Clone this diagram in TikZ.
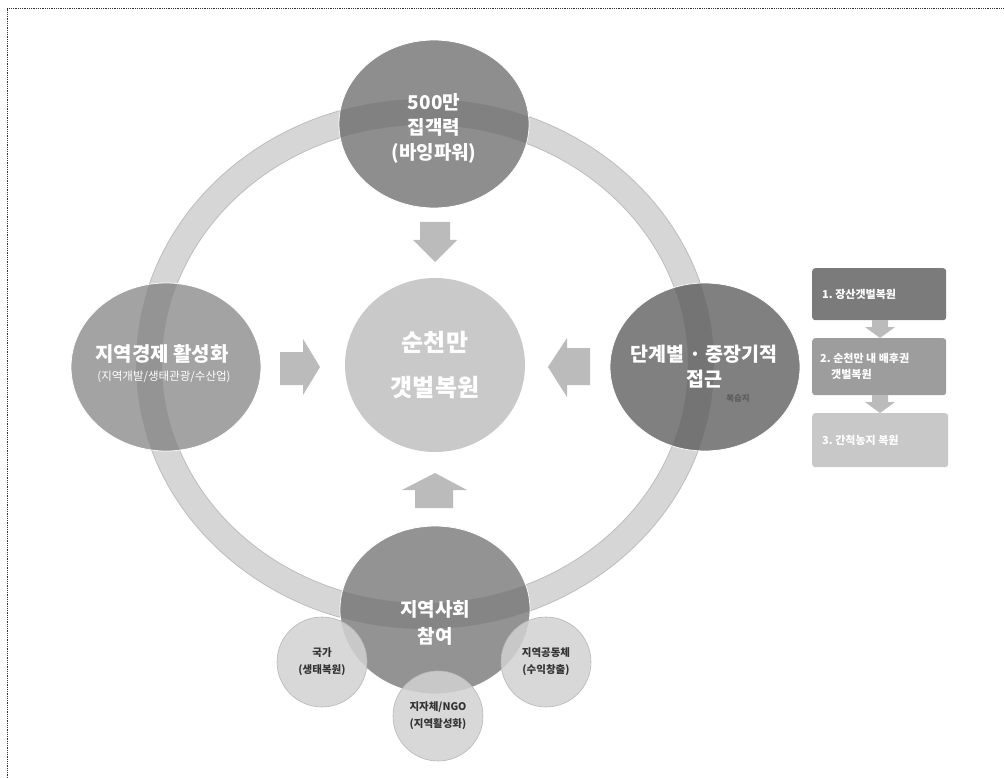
\documentclass[tikz,border=0pt]{standalone}
\usepackage{fontspec}
\setmainfont{Noto Sans CJK KR}
\usetikzlibrary{shapes.geometric}
\definecolor{ringc}{HTML}{D6D6D6}
\definecolor{ringedge}{HTML}{BDBDBD}
\definecolor{ctop}{HTML}{8E8E8E}
\definecolor{cleft}{HTML}{A3A3A3}
\definecolor{cright}{HTML}{808080}
\definecolor{cbottom}{HTML}{939393}
\definecolor{ccenter}{HTML}{C9C9C9}
\definecolor{carrow}{HTML}{BBBBBB}
\definecolor{csmall}{HTML}{D2D2D2}
\definecolor{csmalledge}{HTML}{B8B8B8}
\definecolor{cbox1}{HTML}{7B7B7B}
\definecolor{cbox2}{HTML}{9D9D9D}
\definecolor{cbox3}{HTML}{C8C8C8}
\definecolor{darktext}{HTML}{333333}
\tikzset{
  bigcirc/.style={ellipse, minimum width=190pt, minimum height=168pt, draw=white, line width=0.8pt, text=white, align=center, inner sep=0pt},
  wlabel/.style={text=white, align=center, inner sep=0pt},
  smallcirc/.style={circle, minimum size=90pt, fill=csmall, fill opacity=0.85, text opacity=1, draw=csmalledge, line width=0.6pt, text=darktext, align=center, inner sep=0pt, font=\fontsize{10.5}{17}\selectfont\bfseries},
  stepbox/.style={rectangle, rounded corners=3pt, minimum width=134pt, inner sep=0pt, anchor=north west},
  steptext/.style={text=white, anchor=west, align=left, inner sep=0pt, font=\fontsize{11}{16}\selectfont\bfseries},
  blockarrow/.style={fill=carrow},
}
\begin{document}
\begin{tikzpicture}[x=1pt,y=-1pt]
\useasboundingbox (0,0) rectangle (1004,778);
\fill[white] (0,0) rectangle (1004,778);
% dotted frame
\draw[densely dotted, line width=0.8pt, black!80] (7,778) -- (7,8) -- (1004,8);

% ring
\fill[ringc, draw=ringedge, line width=0.8pt, even odd rule] (425,364) ellipse [x radius=289pt, y radius=265pt] (425,364) ellipse [x radius=263pt, y radius=239pt];

% big circles
\node[bigcirc, fill=ctop] (top) at (434,124) {};
\node[bigcirc, fill=cleft] (left) at (166,367) {};
\node[bigcirc, fill=cright] (right) at (705,367) {};
\node[bigcirc, fill=cbottom] (bottom) at (435,610) {};

% ring visible through circles (darker band)
\begin{scope}
\clip (434,124) ellipse [x radius=95pt, y radius=84pt]
      (166,367) ellipse [x radius=95pt, y radius=84pt]
      (705,367) ellipse [x radius=95pt, y radius=84pt]
      (435,610) ellipse [x radius=95pt, y radius=84pt];
\fill[black, opacity=0.09, even odd rule] (425,364) ellipse [x radius=289pt, y radius=265pt] (425,364) ellipse [x radius=263pt, y radius=239pt];
\end{scope}

% texts on big circles
\node[wlabel, font=\fontsize{19}{25}\selectfont\bfseries] (toptext) at (434,128) {500만\\집객력\\(바잉파워)};
\node[wlabel, font=\fontsize{20}{24}\selectfont\bfseries] (lefttext) at (162,354) {지역경제 활성화};
\node[wlabel, font=\fontsize{11.5}{13}\selectfont] (leftsub) at (164,377) {(지역개발/생태관광/수산업)};
\node[wlabel, font=\fontsize{19.5}{25}\selectfont\bfseries] (righttext) at (704,367) {단계별 · 중장기적\\접근};
\node[text=darktext!80, inner sep=0pt, font=\fontsize{8.5}{10}\selectfont\bfseries] (rightsub) at (738,398) {복습지};
\node[wlabel, font=\fontsize{19}{27}\selectfont\bfseries] (bottomtext) at (435,623) {지역사회\\참여};

% center circle
\node[ellipse, minimum width=180pt, minimum height=174pt, fill=ccenter, inner sep=0pt, text=white, align=center, font=\fontsize{24}{45}\selectfont\bfseries] (center) at (435,365) {순천만\\갯벌복원};

% block arrows
\fill[blockarrow] (420,222) -- (450,222) -- (450,240) -- (457,240) -- (435,262) -- (413,240) -- (420,240) -- cycle;
\fill[blockarrow] (280,352) -- (303,352) -- (303,339) -- (320,367) -- (303,395) -- (303,385) -- (280,385) -- cycle;
\fill[blockarrow] (590,348) -- (567,348) -- (567,338) -- (548,367) -- (567,397) -- (567,385) -- (590,385) -- cycle;
\fill[blockarrow] (415,508) -- (453,508) -- (453,490) -- (467,490) -- (435,473) -- (402,490) -- (415,490) -- cycle;

% small circles
\node[smallcirc] (nation) at (322,662) {국가\\(생태복원)};
\node[smallcirc] (community) at (546,662) {지역공동체\\(수익창출)};
\node[smallcirc] (ngo) at (438,716) {지자체/NGO\\(지역활성화)};

% step boxes
\node[stepbox, fill=cbox1, minimum height=52pt] (s1) at (812,268) {};
\node[stepbox, fill=cbox2, minimum height=57pt] (s2) at (812,338) {};
\node[stepbox, fill=cbox3, minimum height=54pt, minimum width=136pt] (s3) at (812,413) {};
\fill[carrow] (872,320) -- (888,320) -- (888,327) -- (895,327) -- (880,338) -- (865,327) -- (872,327) -- cycle;
\fill[carrow] (872,395) -- (888,395) -- (888,402) -- (895,402) -- (880,413) -- (865,402) -- (872,402) -- cycle;
\node[steptext] (t1) at (822,294) {1.\ 장산갯벌복원};
\node[steptext] (t2) at (820,366) {2.\ 순천만 내 배후권\\\hspace{11pt}갯벌복원};
\node[steptext] (t3) at (822,440) {3.\ 간척농지 복원};
\end{tikzpicture}
\end{document}
